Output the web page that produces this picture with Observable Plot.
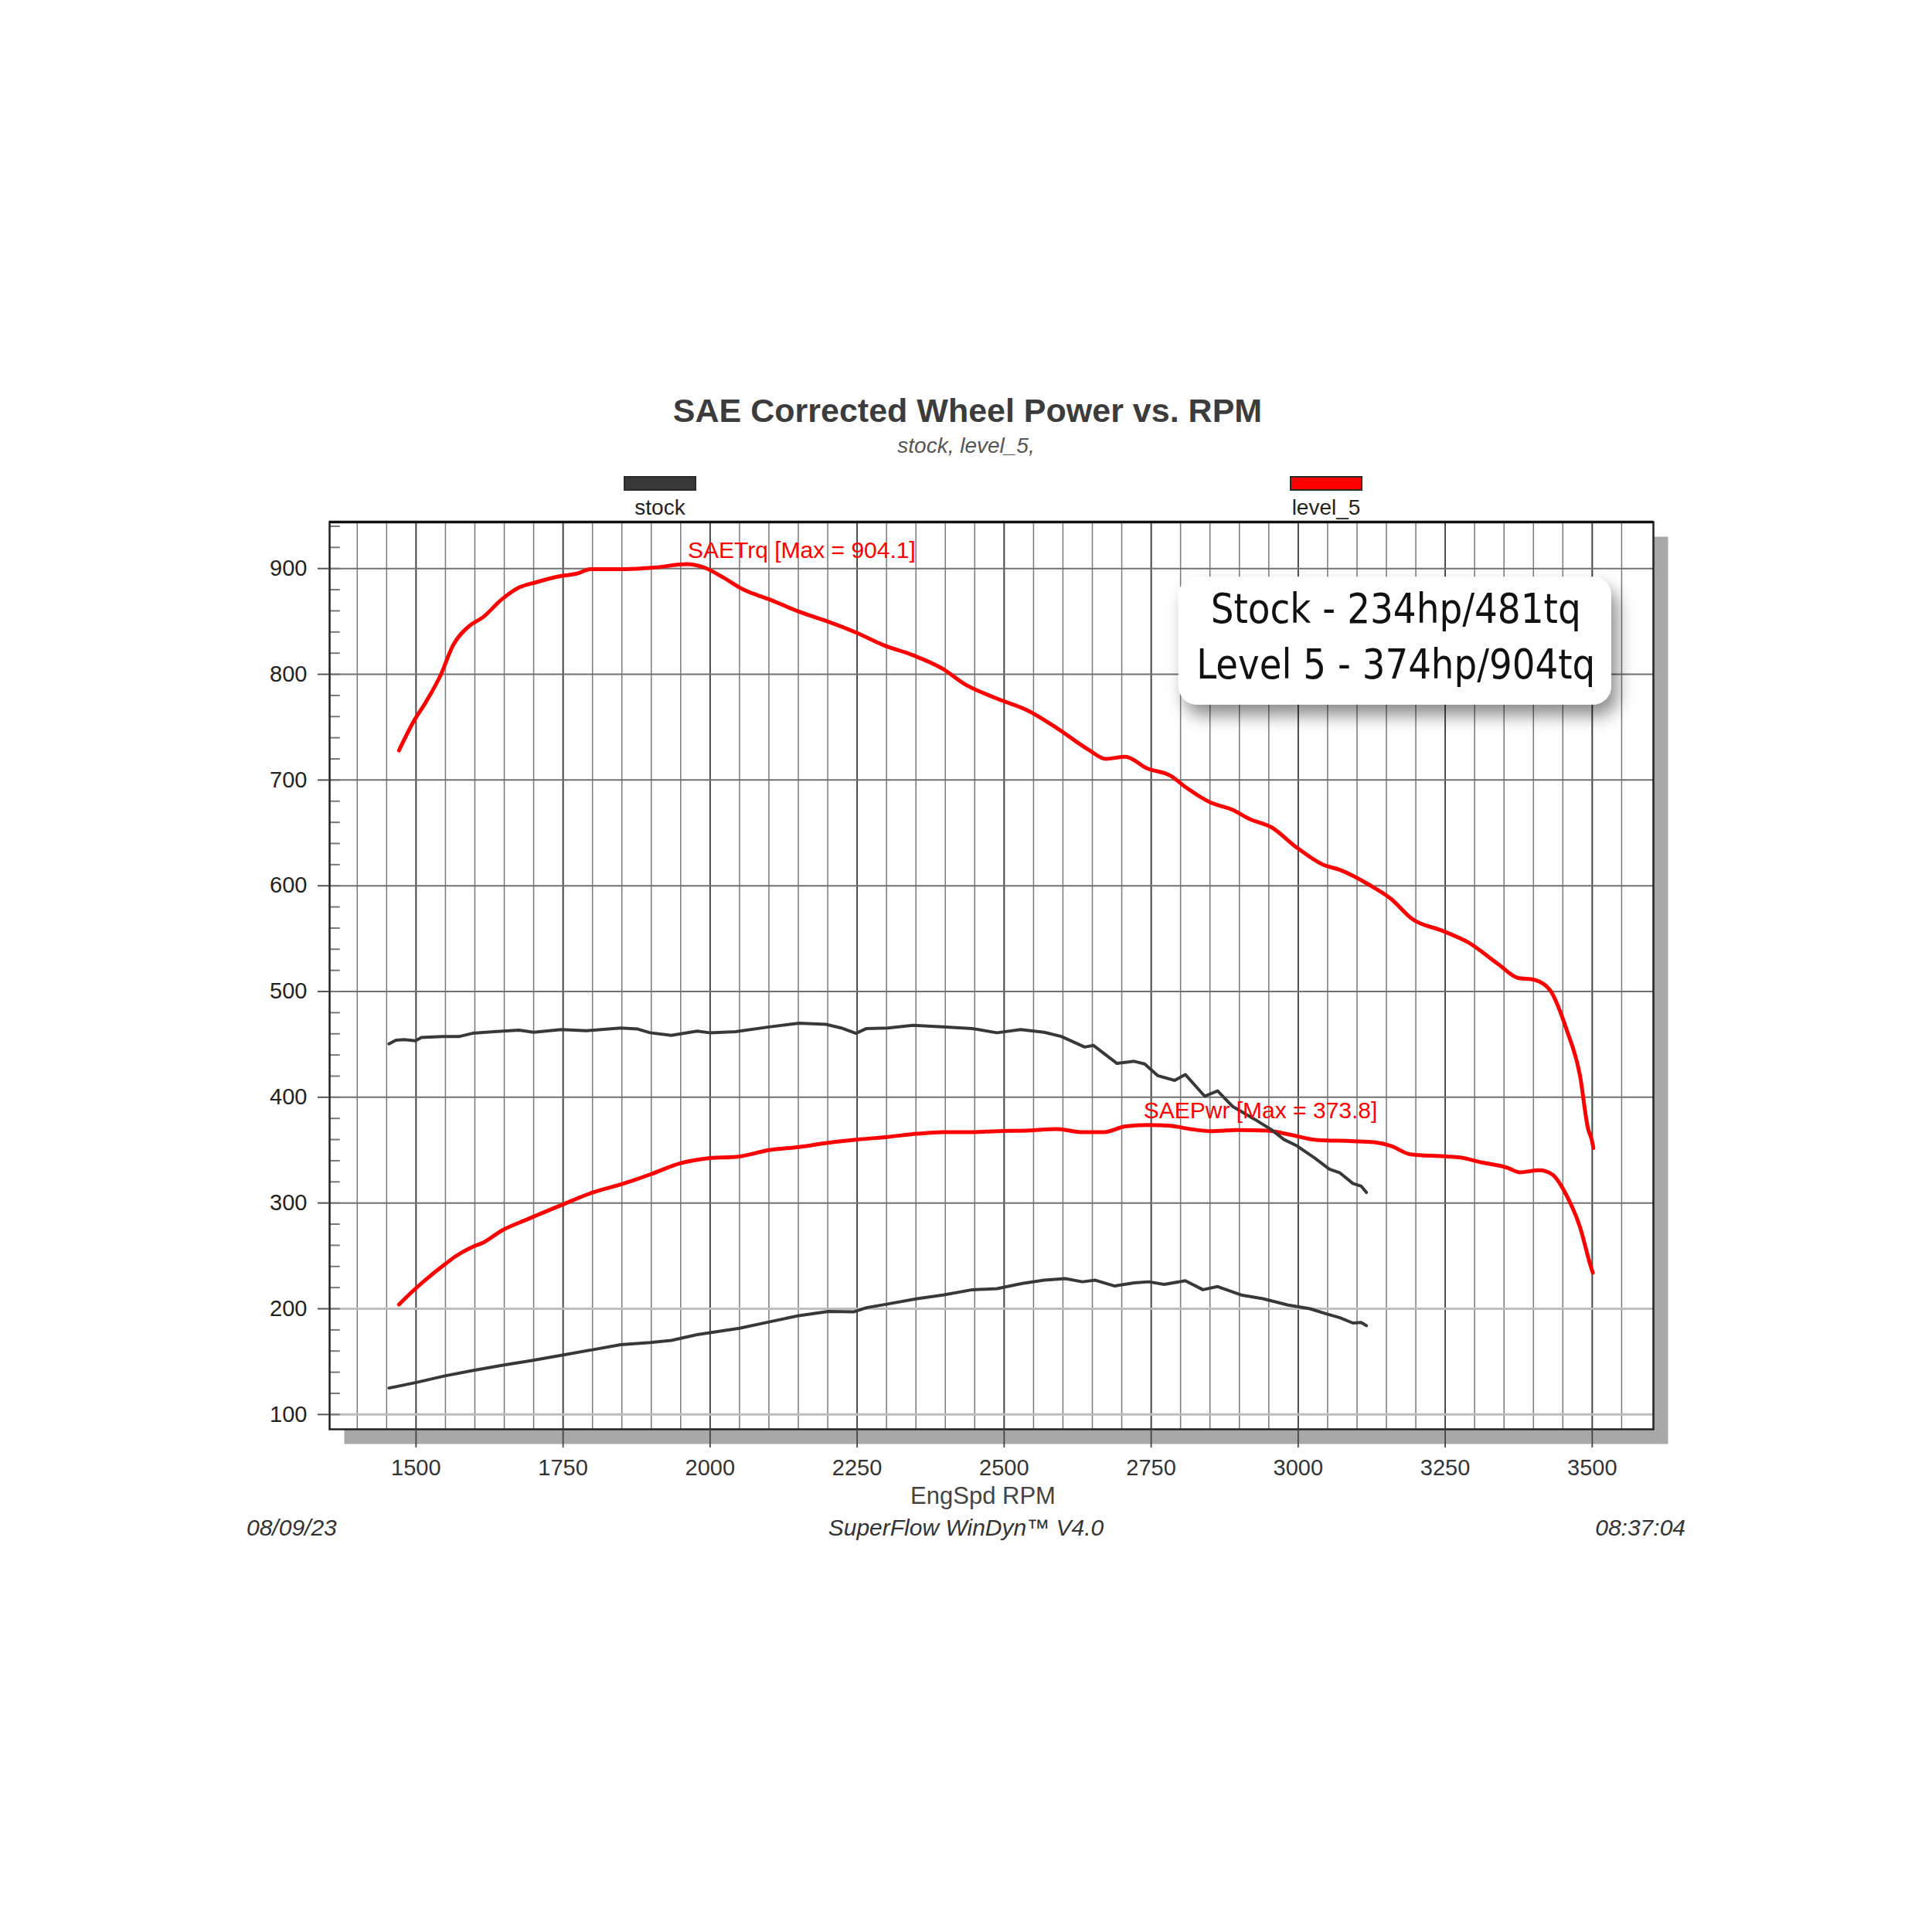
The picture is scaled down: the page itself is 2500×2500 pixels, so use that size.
<!DOCTYPE html>
<html>
<head>
<meta charset="utf-8">
<script src="https://cdn.jsdelivr.net/npm/d3@7"></script>
<script src="https://cdn.jsdelivr.net/npm/@observablehq/plot@0.6"></script>
<style>
  body { margin: 0; background: #fff; }
  #page { position: relative; width: 2500px; height: 2500px; font-family: "Liberation Sans", Arial, sans-serif; color: #222; }
  .abs { position: absolute; line-height: 1; white-space: nowrap; }
  .center { transform: translateX(-50%); }
  #title { left: 1252px; top: 510px; font-size: 43px; font-weight: bold; color: #3c3c3c; }
  #subtitle { left: 1250px; top: 563px; font-size: 28px; font-style: italic; color: #555; }
  #legend { position: absolute; left: 0; top: 0; z-index: 2; }
  .swatch { position: absolute; top: 616px; width: 94px; height: 19px; box-sizing: border-box; border: 2px solid #2a2a2a; }
  .legend-label { top: 643px; font-size: 28px; color: #222; }
  .foot { top: 1962px; font-size: 30px; font-style: italic; color: #333; }
  #plot { position: absolute; left: 0; top: 600px; z-index: 1; }
</style>
</head>
<body>
<div id="page">
  <div id="title" class="abs center">SAE Corrected Wheel Power vs. RPM</div>
  <div id="subtitle" class="abs center">stock, level_5,</div>
  <div id="plot"></div>
  <div id="legend"></div>
  <div class="abs foot" style="left:319px">08/09/23</div>
  <div class="abs foot center" style="left:1250px">SuperFlow WinDyn™ V4.0</div>
  <div class="abs foot" style="right:319px">08:37:04</div>
</div>
<script>
// series names and colours
const seriesNames = ["stock", "level_5"];
const seriesColors = ["#383838", "#ff0000"];

// axis ticks
const xTicks = [1500, 1750, 2000, 2250, 2500, 2750, 3000, 3250, 3500];
const xGrid = d3.range(1400, 3551, 50);
const yTicks = [100, 200, 300, 400, 500, 600, 700, 800, 900];
const yMinor = d3.range(100, 941, 20);

// [rpm, value]
const stockTorque = [
  [1454, 450.5], [1466, 454], [1480, 454.5], [1499, 453.5], [1509, 456.5], [1545, 457.5],
  [1574, 457.5], [1596, 460.5], [1632, 462], [1675, 463.5], [1700, 461.5], [1747, 464],
  [1790, 463], [1848, 465.5], [1877, 464.5], [1898, 461], [1934, 458.5], [1978, 462.5],
  [1999, 461], [2043, 462], [2100, 466.5], [2151, 470], [2197, 469], [2223, 465.5],
  [2248, 460.5], [2266, 465], [2302, 465.5], [2345, 468], [2396, 466.5], [2446, 465],
  [2488, 461], [2528, 464], [2568, 461.5], [2597, 457.5], [2637, 447.5], [2652, 449],
  [2692, 432], [2721, 434], [2739, 431.5], [2761, 420.5], [2790, 416], [2808, 421.5],
  [2841, 401], [2863, 406], [2888, 391.5], [2925, 379.5], [2954, 369.5], [2976, 360],
  [2998, 354], [3027, 343], [3053, 332], [3071, 328.5], [3093, 318.5], [3107, 316], [3116, 310]
];
const stockPower = [
  [1454, 125], [1502, 130.5], [1549, 136.5], [1596, 141.5], [1646, 146.5], [1697, 151],
  [1747, 156], [1798, 161], [1848, 166], [1898, 168], [1934, 170], [1978, 175.5],
  [2050, 181.5], [2100, 187.5], [2151, 193.5], [2201, 197.5], [2244, 197], [2266, 201],
  [2302, 204.5], [2352, 209.5], [2396, 213], [2446, 218], [2488, 219], [2531, 224],
  [2568, 227], [2604, 228.5], [2633, 225.5], [2655, 227], [2688, 221.5], [2721, 224.5],
  [2746, 225.5], [2772, 223], [2808, 226.5], [2838, 218], [2863, 221], [2903, 213],
  [2940, 209.5], [2983, 203.5], [3020, 200], [3049, 195], [3071, 191.5], [3093, 186.5],
  [3107, 187], [3116, 184]
];
const level5Torque = [
  [1471, 728], [1495, 754.5], [1517, 774], [1542, 799.5], [1563, 827.5], [1590, 845.5],
  [1614, 854], [1646, 871], [1675, 882], [1704, 887], [1747, 893], [1772, 895],
  [1798, 899.5], [1855, 899.5], [1906, 901], [1960, 904.1], [1992, 900.5], [2021, 892],
  [2057, 880], [2100, 871], [2150, 859.5], [2197, 850.5], [2248, 839.5], [2295, 827.5],
  [2345, 818], [2396, 805], [2432, 791], [2488, 777], [2539, 766], [2590, 749],
  [2644, 728.5], [2673, 720], [2706, 722], [2743, 711], [2783, 704], [2808, 693.5],
  [2852, 678.5], [2888, 672], [2918, 663], [2954, 655.5], [2998, 636], [3042, 620],
  [3071, 615], [3122, 600.5], [3158, 587.5], [3194, 568.5], [3245, 557.5], [3289, 546.5],
  [3340, 526], [3373, 513], [3402, 511], [3428, 501.5], [3457, 463], [3479, 421],
  [3493, 370], [3499, 360], [3502, 352]
];
const level5Power = [
  [1471, 204], [1495, 217], [1524, 231], [1549, 242], [1567, 249.5], [1596, 258.5],
  [1614, 262.5], [1646, 274], [1689, 284.5], [1747, 298], [1798, 309.5], [1848, 317.5],
  [1898, 327], [1949, 337.5], [1992, 342], [2050, 344], [2100, 350], [2151, 353],
  [2201, 357], [2251, 360], [2302, 362.5], [2352, 365.5], [2396, 367], [2439, 367],
  [2488, 368], [2539, 368.5], [2590, 370], [2633, 367], [2670, 367], [2706, 372.5],
  [2743, 373.8], [2779, 373.3], [2816, 370], [2852, 368], [2896, 369], [2947, 368.5],
  [2983, 365], [3034, 359.5], [3093, 358.5], [3129, 357.5], [3158, 354], [3191, 346],
  [3253, 344], [3275, 343], [3311, 338.5], [3355, 333.5], [3377, 329], [3410, 331],
  [3432, 327], [3457, 306.5], [3479, 277.5], [3497, 241], [3501, 234]
];

const maxLabels = ["SAETrq [Max = 904.1]", "SAEPwr [Max = 373.8]"];
const calloutLines = ["Stock - 234hp/481tq", "Level 5 - 374hp/904tq"];

// legend above the frame
const legendCenters = [854, 1716];
const legend = document.getElementById("legend");
seriesNames.forEach((name, i) => {
  const sw = document.createElement("div");
  sw.className = "swatch";
  sw.style.left = (legendCenters[i] - 47) + "px";
  sw.style.background = seriesColors[i];
  legend.appendChild(sw);
  const lab = document.createElement("div");
  lab.className = "abs center legend-label";
  lab.style.left = legendCenters[i] + "px";
  lab.textContent = name;
  legend.appendChild(lab);
});

const xy = {x: d => d[0], y: d => d[1]};

const chart = Plot.plot({
  width: 2500,
  height: 1400,
  marginLeft: 426,
  marginRight: 361,
  marginTop: 75,
  marginBottom: 151,
  style: {fontFamily: "Liberation Sans, Arial, sans-serif", fontSize: "29px", color: "#222", background: "transparent", overflow: "visible"},
  x: {domain: [1353, 3604]},
  y: {domain: [86, 944]},
  marks: [
    // drop shadow of the chart panel
    Plot.frame({fill: "#a8a8a8", dx: 19, dy: 19}),
    Plot.frame({fill: "white"}),
    Plot.ruleX(xGrid, {stroke: "#7a7a7a", strokeWidth: 1.5}),
    Plot.ruleX(xTicks, {stroke: "#444", strokeWidth: 1.8}),
    Plot.ruleY(yTicks.filter(v => v > 200), {stroke: "#707070", strokeWidth: 2}),
    Plot.ruleY(yTicks.filter(v => v <= 200), {stroke: "#bdbdbd", strokeWidth: 3}),
    Plot.ruleY(yMinor, {x1: 1353, x2: 1371, stroke: "#777", strokeWidth: 2}),

    // callout box
    Plot.rect([0], {x1: 2797, x2: 3533, y1: 771, y2: 892, rx: 24, fill: "white", ariaDescription: "callout-box"}),
    Plot.text(calloutLines, {
      x: 3166, y: (d, i) => [861, 809][i], text: d => d,
      fontFamily: "DejaVu Sans Condensed, DejaVu Sans, sans-serif", fontSize: 54, fill: "#111",
      lineAnchor: "middle", ariaDescription: "callout-text"
    }),

    Plot.line(level5Torque, {...xy, stroke: seriesColors[1], strokeWidth: 5, strokeLinejoin: "round", curve: "monotone-x"}),
    Plot.line(level5Power, {...xy, stroke: seriesColors[1], strokeWidth: 5, strokeLinejoin: "round", curve: "monotone-x"}),
    Plot.line(stockTorque, {...xy, stroke: seriesColors[0], strokeWidth: 4, strokeLinejoin: "round"}),
    Plot.line(stockPower, {...xy, stroke: seriesColors[0], strokeWidth: 4, strokeLinejoin: "round"}),

    Plot.text([maxLabels[0]], {x: 1962, y: 917, text: d => d, textAnchor: "start", fill: "#f00", fontSize: 30, lineAnchor: "middle"}),
    Plot.text([maxLabels[1]], {x: 2737, y: 387, text: d => d, textAnchor: "start", fill: "#f00", fontSize: 30, lineAnchor: "middle"}),

    Plot.frame({stroke: "#222", strokeWidth: 2.5}),
    Plot.ruleY([944], {stroke: "#111", strokeWidth: 3.5}),
    Plot.axisX(xTicks, {tickSize: 24, tickPadding: 15, tickFormat: d => String(d), label: null, stroke: "#444", strokeWidth: 1.8, fontSize: 29, fill: "#333"}),
    Plot.axisY(yTicks, {tickSize: 15, tickPadding: 14, tickFormat: d => String(d), label: null, stroke: "#555", strokeWidth: 2, fontSize: 29, fill: "#222"}),
    Plot.text(["EngSpd RPM"], {frameAnchor: "bottom", dx: -11, dy: 74, text: d => d, lineAnchor: "top", fontSize: 31, fill: "#444"})
  ]
});

document.getElementById("plot").appendChild(chart);

// soft shadow under the callout and squeeze its text to the sheet's widths
const svg = d3.select(chart);
const filter = svg.insert("defs", ":first-child")
  .append("filter")
  .attr("id", "callout-shadow")
  .attr("x", "-20%").attr("y", "-30%")
  .attr("width", "150%").attr("height", "200%");
filter.append("feDropShadow")
  .attr("dx", 8).attr("dy", 14)
  .attr("stdDeviation", 11)
  .attr("flood-color", "#000")
  .attr("flood-opacity", 0.45);

svg.selectAll('g[aria-description="callout-box"] rect')
  .attr("rx", 24)
  .attr("ry", 24)
  .attr("filter", "url(#callout-shadow)");
const lineWidths = [479, 516];
svg.selectAll('g[aria-description="callout-text"] text')
  .attr("textLength", (d, i) => lineWidths[i])
  .attr("lengthAdjust", "spacingAndGlyphs");
</script>
</body>
</html>
